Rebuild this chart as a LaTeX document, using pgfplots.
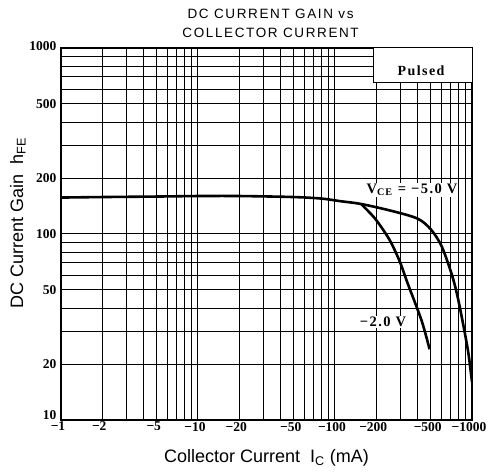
\documentclass[border=0pt]{standalone}
\usepackage{fontspec}
\setmainfont{Liberation Serif}
\newfontfamily\sansf{Liberation Sans}
\newfontfamily\titlef[LetterSpace=12]{Liberation Sans}
\newfontfamily\spacedf[LetterSpace=10]{Liberation Serif}
\usepackage{pgfplots}
\pgfplotsset{compat=1.18}
\usetikzlibrary{calc}
\begin{document}
\begin{tikzpicture}
\begin{axis}[name=ax, scale only axis, width=411pt, height=372pt,
  xmode=log, ymode=log, xmin=1, xmax=1000, ymin=10, ymax=1000,
  xtick={1,2,5,10,20,50,100,200,500,1000},
  xticklabels={−1,−2,−5,−10,−20,−50,−100,−200,−500,−1000},
  minor xtick={3,4,6,7,8,9,30,40,60,70,80,90,300,400,600,700,800,900},
  ytick={10,20,50,100,200,500,1000},
  yticklabels={\raisebox{9pt}{10},20,50,100,200,500,\raisebox{3pt}{1000}},
  minor ytick={30,40,60,70,80,90,300,400,600,700,800,900},
  grid=both,
  major grid style={black, line width=1pt},
  minor grid style={black, line width=0.65pt},
  major tick length=0pt, minor tick length=0pt,
  axis line style={line width=1.6pt},
  tick label style={font=\bfseries\fontsize{13.5}{14}\selectfont},
  xticklabel style={yshift=1.5pt, xshift=-3pt},
  yticklabel style={xshift=-1pt},
  xlabel={Collector Current\ \ I\textsubscript{C} (mA)},
  ylabel={DC Current Gain\ \ h\textsubscript{FE}},
  xlabel style={at={(axis description cs:0.5,0)}, anchor=center, yshift=-38pt, font=\sansf\fontsize{18}{20}\selectfont},
  ylabel style={at={(axis description cs:-0.105,0.53)}, anchor=center, font=\sansf\fontsize{18}{20}\selectfont},
  title={DC CURRENT GAIN vs\\COLLECTOR CURRENT},
  title style={at={(axis description cs:0.51,1)}, anchor=south, yshift=1pt, align=center, font=\titlef\fontsize{13.5}{19}\selectfont},
]
\addplot[black, line width=2.6pt, smooth] coordinates {
(1,157) (2,158) (5,159) (10,160) (20,160) (50,158) (80,155) (110,150) (155,145) (260,133) (400,121) (500,106) (600,86) (710,61) (780,47) (860,33) (940,23) (1000,16)};
\addplot[black, line width=2.6pt, smooth] coordinates {
(155,145) (196,121) (248,94) (295,72) (340,54) (430,34) (490,24)};
\filldraw[fill=white, draw=black, line width=1pt] (axis cs:190,656) rectangle (axis cs:1000,1000);
\node[font=\spacedf\bfseries\fontsize{14}{14}\selectfont] at (axis cs:425,756) {Pulsed};
\node[fill=white, inner sep=1pt, font=\spacedf\bfseries\fontsize{14.5}{14}\selectfont] at (axis cs:365,173) {V\textsubscript{CE} = −5.0 V};
\node[fill=white, inner sep=1pt, font=\spacedf\bfseries\fontsize{14.5}{14}\selectfont] at (axis cs:224,33.7) {−2.0 V};
\end{axis}
\pgfresetboundingbox
\path[use as bounding box] ($(ax.south west)+(-61pt,-56pt)$) rectangle ($(ax.north east)+(20pt,48pt)$);
\end{tikzpicture}
\end{document}
